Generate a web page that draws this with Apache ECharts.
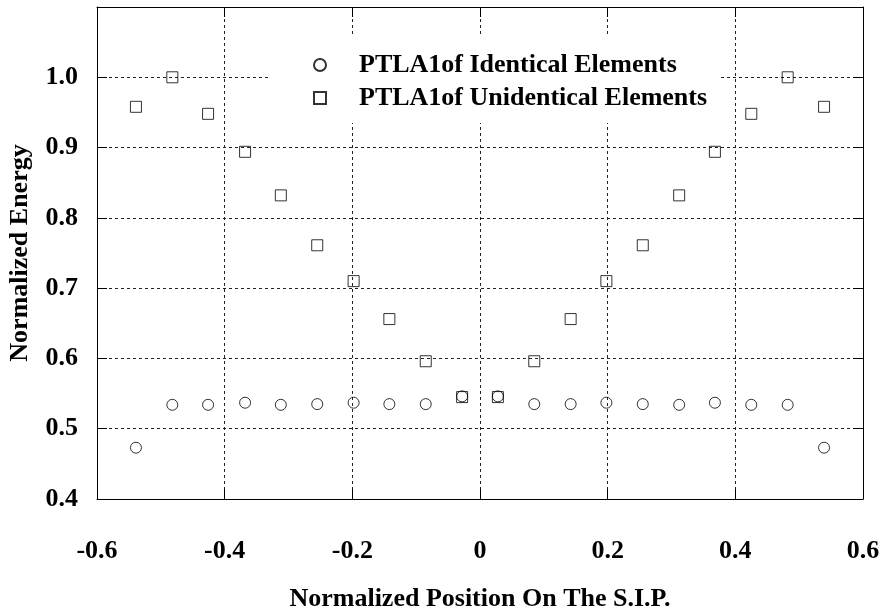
<!DOCTYPE html>
<html>
<head>
<meta charset="utf-8">
<script src="https://cdn.jsdelivr.net/npm/echarts@6/dist/echarts.min.js"></script>
<style>
    html,body{margin:0;padding:0;background:#fff;}
    #energyChart{width:879px;height:610px;}
</style>
</head>
<body>
<div id="energyChart"></div>
<script>
// 位置(S.I.P.上归一化位置)
const positions = [-0.539,-0.482,-0.426,-0.368,-0.312,-0.255,-0.198,-0.142,-0.085,-0.028,
                   0.028,0.085,0.142,0.198,0.255,0.312,0.368,0.425,0.482,0.539];
// 相同元素
const identical = [0.473,0.534,0.534,0.537,0.534,0.535,0.537,0.535,0.535,0.546,
                   0.546,0.535,0.535,0.537,0.535,0.534,0.537,0.534,0.534,0.473];
// 不同元素
const unidentical = [0.958,1.0,0.948,0.894,0.832,0.761,0.710,0.656,0.596,0.545,
                     0.545,0.596,0.656,0.710,0.761,0.832,0.894,0.948,1.0,0.958];
const seriesNames = ["PTLA1of Identical Elements","PTLA1of Unidentical Elements"];
const xTitle = "Normalized Position On The S.I.P.";
const yTitle = "Normalized Energy";

const font = "Liberation Serif";
let fmt = v=>Math.abs(v)<1e-9 ? "0" : v.toFixed(1);
let dashed = {show:true,lineStyle:{color:"#222",width:1,type:[3,3]}};
let frameLine = {show:true,onZero:false,lineStyle:{color:"#000",width:1}};
let tickIn = {show:true,inside:true,length:10,lineStyle:{color:"#000",width:1}};
let symStyle = {color:"rgba(0,0,0,0)",borderColor:"#000",borderWidth:1};
let boldText = {fontFamily:font,fontWeight:"bold",fontSize:26,color:"#000"};

let chart = echarts.init(document.getElementById("energyChart"));
let option = {
    animation:false,
    backgroundColor:"#fff",
    grid:{left:97,right:16,top:7,bottom:111,outerBoundsMode:"none",containLabel:false},
    legend:{
        orient:"vertical",
        left:270,top:35,
        padding:[17,11,12,43],
        itemGap:7,
        itemWidth:12,itemHeight:12,
        backgroundColor:"#fff",
        textStyle:Object.assign({padding:[0,0,0,28]},boldText),
        data:seriesNames
    },
    xAxis:[{
        type:"value",min:-0.6,max:0.6,interval:0.2,
        name:xTitle,nameLocation:"middle",nameGap:87,
        nameTextStyle:boldText,
        axisLine:frameLine,axisTick:tickIn,splitLine:dashed,
        axisLabel:Object.assign({formatter:fmt,margin:39},boldText)
    },{
        type:"value",position:"top",min:-0.6,max:0.6,interval:0.2,
        axisLine:frameLine,axisTick:tickIn,splitLine:{show:false},axisLabel:{show:false}
    }],
    yAxis:[{
        type:"value",min:0.4,max:1.1,interval:0.1,
        name:yTitle,nameLocation:"middle",nameGap:64,
        nameTextStyle:boldText,
        axisLine:frameLine,axisTick:tickIn,splitLine:dashed,
        axisLabel:Object.assign({formatter:v=>v>1.05 ? "" : fmt(v),margin:19},boldText)
    },{
        type:"value",position:"right",min:0.4,max:1.1,interval:0.1,
        axisLine:frameLine,axisTick:tickIn,splitLine:{show:false},axisLabel:{show:false}
    }],
    series:[{
        name:seriesNames[0],type:"scatter",
        symbol:"circle",symbolSize:11,
        itemStyle:symStyle,z:3,
        data:positions.map((x,i)=>[x,identical[i]])
    },{
        name:seriesNames[1],type:"scatter",
        symbol:"rect",symbolSize:11,
        itemStyle:symStyle,z:2,
        data:positions.map((x,i)=>[x,unidentical[i]])
    }]
};
chart.setOption(option);
</script>
</body>
</html>
